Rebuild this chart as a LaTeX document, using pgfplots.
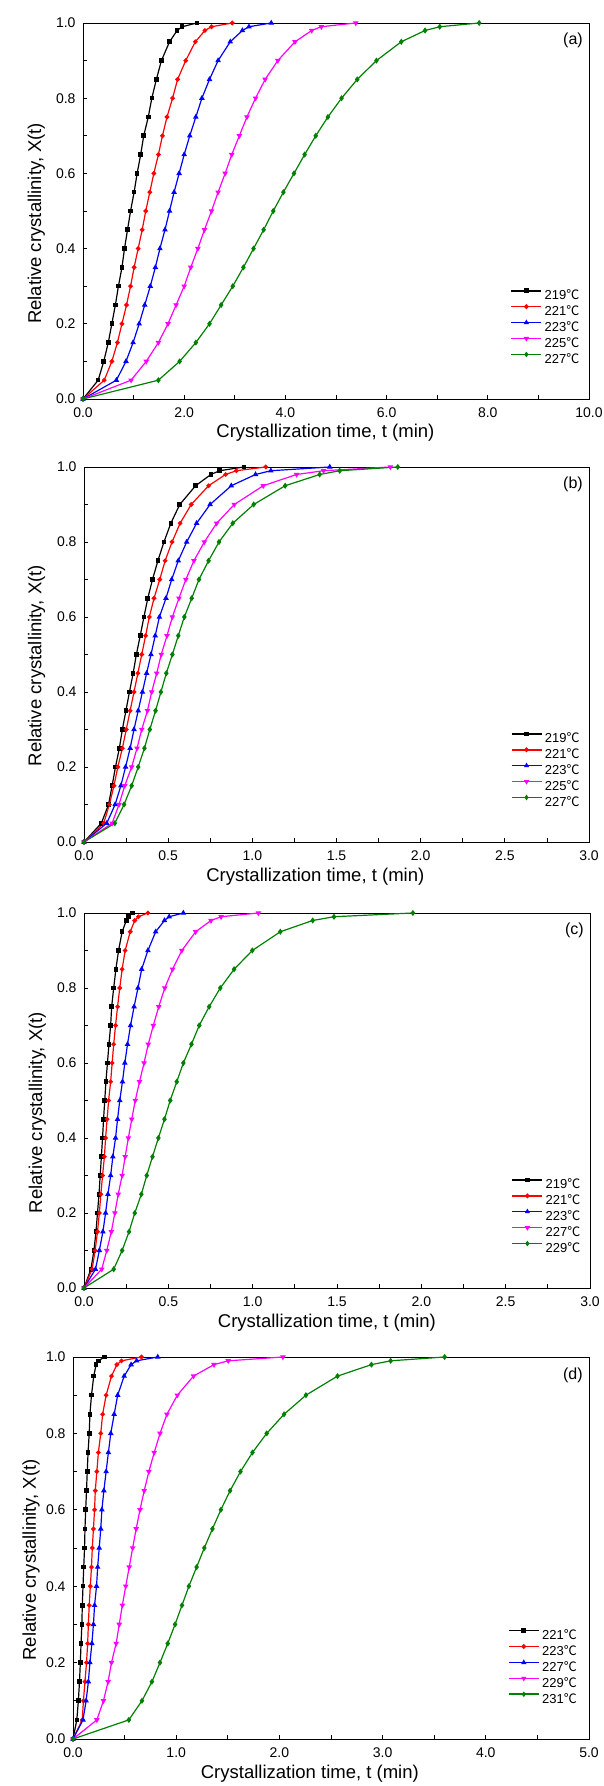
\documentclass[border=0pt]{standalone}
\usepackage{pgfplots}
\pgfplotsset{compat=1.18}
\usepackage{pgfplotstable}
\usepackage{fontspec}
\setmainfont{Liberation Sans}
\newfontfamily\cjk{Noto Sans CJK SC}
\newcommand{\dc}{{\cjk ℃}}

\definecolor{cgreen}{RGB}{0,128,0}
\definecolor{cmag}{RGB}{255,0,255}
\definecolor{cred}{RGB}{255,0,0}
\definecolor{cblue}{RGB}{0,0,255}

\pgfplotstableread{
X a b c d e
0 0 0 0 0 0
0.05 0.30 0.42 0.66 0.95 1.49
0.10 0.41 0.57 0.85 1.25 1.91
0.15 0.50 0.68 0.99 1.49 2.23
0.20 0.57 0.77 1.11 1.68 2.50
0.25 0.64 0.86 1.22 1.84 2.73
0.30 0.70 0.94 1.33 2.00 2.96
0.35 0.77 1.01 1.43 2.13 3.17
0.40 0.82 1.09 1.52 2.27 3.37
0.45 0.88 1.17 1.62 2.40 3.57
0.50 0.94 1.24 1.71 2.54 3.76
0.55 1.01 1.32 1.80 2.67 3.96
0.60 1.07 1.40 1.90 2.81 4.17
0.65 1.14 1.49 2.00 2.94 4.38
0.70 1.20 1.57 2.11 3.09 4.60
0.75 1.29 1.66 2.23 3.24 4.84
0.80 1.36 1.77 2.35 3.41 5.11
0.85 1.45 1.87 2.50 3.60 5.42
0.90 1.55 2.03 2.67 3.85 5.80
0.95 1.71 2.22 2.91 4.19 6.29
0.98 1.86 2.41 3.15 4.52 6.76
0.99 1.96 2.54 3.28 4.71 7.05
1.00 2.25 2.95 3.72 5.39 7.83
}\tabA

\pgfplotstableread{
X a b c d e
0 0 0 0 0 0
0.05 0.103 0.117 0.135 0.167 0.183
0.10 0.146 0.151 0.185 0.208 0.238
0.15 0.167 0.178 0.219 0.242 0.283
0.20 0.187 0.201 0.247 0.283 0.322
0.25 0.210 0.228 0.274 0.315 0.359
0.30 0.228 0.251 0.297 0.343 0.391
0.35 0.249 0.274 0.322 0.377 0.425
0.40 0.270 0.297 0.347 0.402 0.457
0.45 0.292 0.320 0.372 0.432 0.489
0.50 0.311 0.343 0.398 0.459 0.525
0.55 0.334 0.366 0.423 0.493 0.560
0.60 0.356 0.388 0.448 0.525 0.596
0.65 0.379 0.416 0.487 0.564 0.640
0.70 0.407 0.450 0.521 0.605 0.683
0.75 0.439 0.482 0.560 0.653 0.740
0.80 0.475 0.523 0.610 0.715 0.802
0.85 0.516 0.571 0.669 0.788 0.884
0.90 0.569 0.637 0.749 0.893 1.008
0.95 0.663 0.740 0.875 1.065 1.195
0.98 0.754 0.841 1.019 1.263 1.400
0.99 0.806 0.905 1.110 1.423 1.519
1.00 0.950 1.080 1.460 1.820 1.864
}\tabB

\pgfplotstableread{
X a b c d e
0 0 0 0 0 0
0.05 0.041 0.048 0.068 0.105 0.176
0.10 0.059 0.066 0.091 0.135 0.226
0.15 0.071 0.080 0.112 0.162 0.267
0.20 0.080 0.091 0.128 0.183 0.301
0.25 0.089 0.100 0.142 0.203 0.340
0.30 0.096 0.110 0.158 0.226 0.372
0.35 0.103 0.121 0.171 0.244 0.406
0.40 0.110 0.128 0.187 0.263 0.441
0.45 0.116 0.137 0.199 0.283 0.477
0.50 0.123 0.146 0.212 0.304 0.511
0.55 0.130 0.158 0.228 0.329 0.550
0.60 0.139 0.167 0.242 0.356 0.589
0.65 0.148 0.176 0.258 0.381 0.637
0.70 0.158 0.187 0.276 0.411 0.683
0.75 0.164 0.199 0.297 0.443 0.742
0.80 0.176 0.212 0.320 0.479 0.808
0.85 0.189 0.226 0.342 0.525 0.890
0.90 0.205 0.244 0.379 0.580 0.998
0.95 0.226 0.274 0.425 0.662 1.164
0.98 0.251 0.301 0.477 0.753 1.356
0.99 0.265 0.322 0.505 0.813 1.482
1.00 0.288 0.379 0.589 1.034 1.950
}\tabC

\pgfplotstableread{
X a b c d e
0 0 0 0 0 0
0.05 0.037 0.090 0.097 0.231 0.541
0.10 0.052 0.101 0.127 0.295 0.668
0.15 0.063 0.116 0.149 0.340 0.765
0.20 0.071 0.131 0.164 0.373 0.843
0.25 0.078 0.142 0.183 0.418 0.918
0.30 0.086 0.149 0.198 0.448 0.989
0.35 0.090 0.157 0.209 0.478 1.056
0.40 0.097 0.168 0.228 0.511 1.123
0.45 0.104 0.179 0.239 0.545 1.198
0.50 0.112 0.187 0.254 0.578 1.272
0.55 0.116 0.198 0.269 0.612 1.351
0.60 0.123 0.209 0.280 0.649 1.433
0.65 0.131 0.216 0.299 0.690 1.522
0.70 0.138 0.231 0.321 0.735 1.623
0.75 0.146 0.246 0.343 0.787 1.739
0.80 0.157 0.269 0.366 0.843 1.877
0.85 0.164 0.287 0.399 0.910 2.045
0.90 0.179 0.321 0.433 1.011 2.257
0.95 0.201 0.373 0.496 1.168 2.563
0.98 0.224 0.425 0.563 1.366 2.892
0.99 0.246 0.470 0.616 1.504 3.078
1.00 0.306 0.664 0.821 2.034 3.601
}\tabD

\pgfplotsset{
  sA/.style={black, line width=1.2pt, mark=square*, mark size=1.7pt, mark options={solid}},
  sB/.style={cred, line width=1.2pt, mark=*, mark size=1.7pt, mark options={solid}},
  sC/.style={cblue, line width=1.2pt, mark=triangle*, mark size=2.1pt, mark options={solid}},
  sD/.style={cmag, line width=1.2pt, mark=triangle*, mark size=2.1pt, mark options={solid, rotate=180}},
  sE/.style={cgreen, line width=1.2pt, mark=diamond*, mark size=2.1pt, mark options={solid}},
  myax/.style={
    scale only axis, clip=false,
    xmin=0, ymin=0, ymax=1,
    axis line style={line width=0.9pt},
    tick align=inside, xtick pos=bottom, ytick pos=left,
    minor x tick num=1, minor y tick num=1,
    ytick={0,0.2,0.4,0.6,0.8,1},
    major tick length=4pt, minor tick length=3.5pt,
    every tick/.style={black, line width=0.8pt},
    /pgf/number format/assume math mode=true,
    /pgf/number format/fixed, /pgf/number format/fixed zerofill,
    /pgf/number format/precision=1,
    tick label style={font=\fontsize{14}{16}\selectfont},
    xticklabel style={yshift=-5pt},
    yticklabel style={xshift=-4pt},
    label style={font=\fontsize{18.5}{22}\selectfont},
    xlabel={Crystallization time, t (min)},
    ylabel={Relative crystallinity, X(t)},
    legend cell align=left,
    legend style={draw=none, fill=none, inner sep=0pt, outer sep=0pt,
      anchor=south west, font=\fontsize{13}{15}\selectfont,
      row sep=3.5pt, column sep=2pt,
      nodes={inner sep=0.5pt}},
    legend image code/.code={
      \draw[mark repeat=2,mark phase=2,#1,line width=1.6pt,mark size=1.5pt] plot coordinates {(0pt,4.5pt) (15pt,4.5pt) (30pt,4.5pt)};
    },
  },
}

\begin{document}
\begin{tikzpicture}
\useasboundingbox (0,0) rectangle (604pt,1786pt);

% (a)
\begin{axis}[myax, at={(83pt,1387pt)}, anchor=south west,
  width=506pt, height=376pt,
  xmax=10, xtick={0,2,4,6,8,10},
  xlabel style={at={(axis description cs:0.479,-0.091)}, anchor=center},
  ylabel style={at={(axis description cs:-0.092,0.467)}, anchor=center},
  legend style={at={(0.845,0.09)}}]
\addplot[sA] table[x=a,y=X] {\tabA};
\addplot[sB] table[x=b,y=X] {\tabA};
\addplot[sC] table[x=c,y=X] {\tabA};
\addplot[sD] table[x=d,y=X] {\tabA};
\addplot[sE] table[x=e,y=X] {\tabA};
\legend{219\dc,221\dc,223\dc,225\dc,227\dc}
\node[anchor=north east, inner sep=0pt, font=\fontsize{16}{19}\selectfont] at (rel axis cs:0.988,0.973) {(a)};
\end{axis}

% (b)
\begin{axis}[myax, at={(84pt,944pt)}, anchor=south west,
  width=505pt, height=375pt,
  xmax=3, xtick={0,0.5,1,1.5,2,2.5,3},
  xlabel style={at={(axis description cs:0.458,-0.0925)}, anchor=center},
  ylabel style={at={(axis description cs:-0.094,0.47)}, anchor=center},
  legend style={at={(0.845,0.09)}}]
\addplot[sA] table[x=a,y=X] {\tabB};
\addplot[sB] table[x=b,y=X] {\tabB};
\addplot[sC] table[x=c,y=X] {\tabB};
\addplot[sD] table[x=d,y=X] {\tabB};
\addplot[sE] table[x=e,y=X] {\tabB};
\legend{219\dc,221\dc,223\dc,225\dc,227\dc}
\node[anchor=north east, inner sep=0pt, font=\fontsize{16}{19}\selectfont] at (rel axis cs:0.988,0.973) {(b)};
\end{axis}

% (c)
\begin{axis}[myax, at={(84pt,498pt)}, anchor=south west,
  width=506pt, height=375pt,
  xmax=3, xtick={0,0.5,1,1.5,2,2.5,3},
  xlabel style={at={(axis description cs:0.48,-0.093)}, anchor=center},
  ylabel style={at={(axis description cs:-0.092,0.468)}, anchor=center},
  legend style={at={(0.845,0.09)}}]
\addplot[sA] table[x=a,y=X] {\tabC};
\addplot[sB] table[x=b,y=X] {\tabC};
\addplot[sC] table[x=c,y=X] {\tabC};
\addplot[sD] table[x=d,y=X] {\tabC};
\addplot[sE] table[x=e,y=X] {\tabC};
\legend{219\dc,221\dc,223\dc,227\dc,229\dc}
\node[anchor=north east, inner sep=0pt, font=\fontsize{16}{19}\selectfont] at (rel axis cs:0.988,0.973) {(c)};
\end{axis}

% (d)
\begin{axis}[myax, at={(73pt,47pt)}, anchor=south west,
  width=516pt, height=382pt,
  xmax=5, xtick={0,1,2,3,4,5},
  xlabel style={at={(axis description cs:0.459,-0.092)}, anchor=center},
  ylabel style={at={(axis description cs:-0.081,0.469)}, anchor=center},
  legend style={at={(0.843,0.089)}}]
\addplot[sA] table[x=a,y=X] {\tabD};
\addplot[sB] table[x=b,y=X] {\tabD};
\addplot[sC] table[x=c,y=X] {\tabD};
\addplot[sD] table[x=d,y=X] {\tabD};
\addplot[sE] table[x=e,y=X] {\tabD};
\legend{221\dc,223\dc,227\dc,229\dc,231\dc}
\node[anchor=north east, inner sep=0pt, font=\fontsize{16}{19}\selectfont] at (rel axis cs:0.988,0.973) {(d)};
\end{axis}
\end{tikzpicture}
\end{document}
